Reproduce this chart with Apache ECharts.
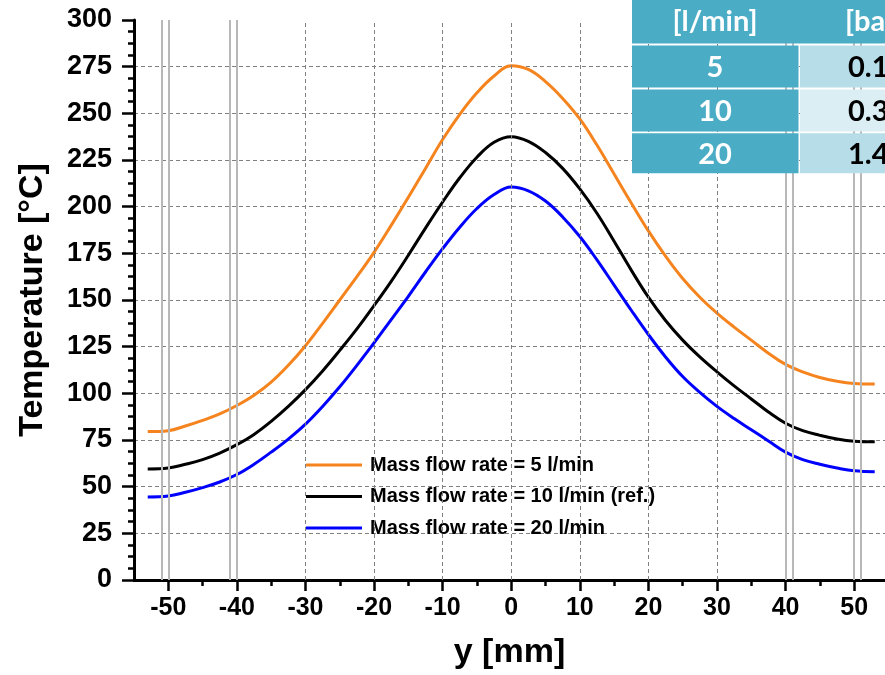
<!DOCTYPE html>
<html><head><meta charset="utf-8">
<script src="https://cdn.jsdelivr.net/npm/echarts@6/dist/echarts.min.js"></script>
<style>html,body{margin:0;padding:0;background:#fff}#c{width:885px;height:675px}</style>
</head><body><div id="c"></div>
<script>
const positions = [-53,-50,-47.5,-45,-42.5,-40,-37.5,-35,-32.5,-30,-27.5,-25,-22.5,-20,-17.5,-15,-12.5,-10,-7.5,-5,-2.5,0,2.5,5,7.5,10,12.5,15,17.5,20,22.5,25,27.5,30,32.5,35,37.5,40,42.5,45,47.5,50,53];
const temp5  = [79.5,80,82.5,85.5,89,93.5,99,106,115,125.5,137.5,150,162.5,175.5,190,205,220.5,236,249.5,261,270,275.5,273.5,267,258,247,233,217.5,202,187,173.5,161.5,151.5,143,135.5,128.5,121.5,115.5,111.5,108.5,106.5,105.3,105];
const temp10 = [59.5,60,62,64.5,68,72.5,78,85,93,102,112,123,134.5,147,160,174,188.5,202.5,215.5,226.5,234.5,237.5,235,229,220.5,209.5,196.5,181.5,166,151.5,139,128.5,119.5,111.5,104,97,90,84,80,77.5,75.5,74.3,74];
const temp20 = [44.5,45,47,49.5,52.5,56.5,62,68.5,75.5,83.5,93,103.5,115,127,139.5,152,165,177.5,189,199,206.5,210.5,208.5,203,194.5,184,171.5,158,144.5,131.5,119.5,109,100.5,93,86.5,80.5,74.5,68.5,64.5,62,60,58.5,58];
const seriesNames = ['Mass flow rate = 5 l/min','Mass flow rate = 10 l/min (ref.)','Mass flow rate = 20 l/min'];
const seriesColors = ['#f5841f','#000000','#0000ff'];
const xMajorTicks = [-50,-40,-30,-20,-10,0,10,20,30,40,50];
const xMinorTicks = [-45,-35,-25,-15,-5,5,15,25,35,45];
const xDashedGrid = [-30,-20,-10,0,10,20,30];
const xGrayLines = [-51,-50,-41,-40,40,41,50,51];
const tableHeader = ['[l/min]','[bar]'];
const tableFlow = ['5','10','20'];
const tablePressure = ['0.1','0.3','1.4'];

const FONT = 'Arial, "Liberation Sans", sans-serif';
const chart = echarts.init(document.getElementById('c'), null, {renderer:'canvas'});

const lineSeries = [temp5,temp10,temp20].map((arr,k)=>({
  name: seriesNames[k], type:'line', xAxisIndex:0, yAxisIndex:0,
  data: positions.map((x,i)=>[x,arr[i]]),
  symbol:'none', smooth:0.4, z:3,
  lineStyle:{color:seriesColors[k], width:3}, itemStyle:{color:seriesColors[k]}
}));

const TEAL = '#4bacc6', LIGHT1 = '#b7dde8', LIGHT2 = '#dbeef4';
const TFONT = 'bold 29px Lato, "Open Sans", sans-serif';
const graphics = [];
graphics.push({type:'rect', z:100, shape:{x:632,y:-2,width:260,height:45.5}, style:{fill:TEAL}});
graphics.push({type:'text', z:101, style:{x:715,y:22,text:tableHeader[0],fill:'#fff',font:TFONT,textAlign:'center',textVerticalAlign:'middle'}});
graphics.push({type:'text', z:101, style:{x:845,y:22,text:tableHeader[1],fill:'#fff',font:TFONT,textAlign:'left',textVerticalAlign:'middle'}});
const rowTops = [45.5, 89.4, 133.3], rowH = [42, 42, 40];
tableFlow.forEach((t,i)=>{
  graphics.push({type:'rect', z:100, shape:{x:632,y:rowTops[i],width:166.5,height:rowH[i]}, style:{fill:TEAL}});
  graphics.push({type:'rect', z:100, shape:{x:800,y:rowTops[i],width:100,height:rowH[i]}, style:{fill: i===1?LIGHT2:LIGHT1}});
  graphics.push({type:'text', z:101, style:{x:715,y:rowTops[i]+rowH[i]/2+1,text:t,fill:'#fff',font:TFONT,textAlign:'center',textVerticalAlign:'middle'}});
  graphics.push({type:'text', z:101, style:{x:848,y:rowTops[i]+rowH[i]/2+1,text:tablePressure[i],fill:'#000',font:TFONT,textAlign:'left',textVerticalAlign:'middle'}});
});

const option = {
  backgroundColor:'#fff',
  animation:false,
  grid:{left:134, right:0, top:20, bottom:94, containLabel:false},
  legend:{
    data: seriesNames, orient:'vertical', left:301, top:450,
    icon:'rect', itemWidth:56, itemHeight:3, itemGap:11.5,
    textStyle:{fontFamily:FONT, fontWeight:'bold', fontSize:20, color:'#000', lineHeight:20, padding:[0,0,0,3]}
  },
  xAxis:[{
    type:'value', min:-55, max:54.5, position:'bottom',
    name:'y [mm]', nameLocation:'middle', nameGap:56,
    nameTextStyle:{fontFamily:FONT, fontWeight:'bold', fontSize:34, color:'#000'},
    axisLine:{show:true, onZero:false, lineStyle:{color:'#000', width:3}},
    axisTick:{show:true, inside:false, length:11, lineStyle:{color:'#000', width:2.5}, customValues:xMajorTicks},
    axisLabel:{show:true, customValues:xMajorTicks, margin:16, fontFamily:FONT, fontWeight:'bold', fontSize:25, color:'#000'},
    splitLine:{show:false}
  },{
    type:'value', min:-55, max:54.5, position:'bottom',
    axisLine:{show:false},
    axisTick:{show:true, inside:false, length:6, lineStyle:{color:'#000', width:2.5}, customValues:xMinorTicks},
    axisLabel:{show:false}, splitLine:{show:false}
  }],
  yAxis:{
    type:'value', min:0, max:300, interval:25,
    name:'Temperature [°C]', nameLocation:'middle', nameGap:84, nameRotate:90,
    nameTextStyle:{fontFamily:FONT, fontWeight:'bold', fontSize:34, color:'#000'},
    axisLine:{show:true, onZero:false, lineStyle:{color:'#000', width:3}},
    axisTick:{show:true, inside:false, length:12, lineStyle:{color:'#000', width:2.5}},
    minorTick:{show:true, splitNumber:4, length:6, lineStyle:{color:'#000', width:2.5}},
    axisLabel:{margin:22, fontFamily:FONT, fontWeight:'bold', fontSize:27, color:'#000'},
    splitLine:{show:true, showMinLine:false, showMaxLine:false, lineStyle:{color:'#808080', width:1, type:[4,3]}}
  },
  series:[
    {type:'line', data:[], z:1, silent:true,
     markLine:{silent:true, symbol:'none', label:{show:false},
       lineStyle:{color:'#808080', width:1, type:[4,3]},
       data: xDashedGrid.map(v=>({xAxis:v}))}},
    ...lineSeries,
    {type:'line', data:[], z:5, silent:true,
     markLine:{silent:true, symbol:'none', label:{show:false},
       lineStyle:{color:'#b8b8b8', width:2, type:'solid'},
       data: xGrayLines.map(v=>({xAxis:v}))}}
  ],
  graphic: graphics
};
chart.setOption(option);
</script></body></html>
